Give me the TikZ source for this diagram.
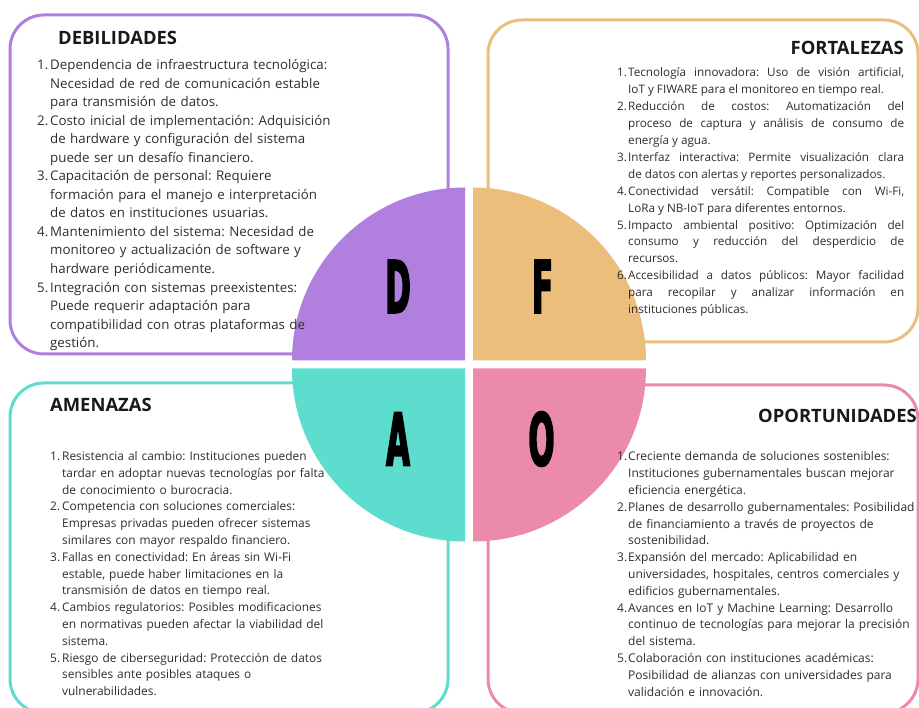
\documentclass[tikz,border=0pt]{standalone}
\usepackage{fontspec}
\setmainfont{Open Sans}
\newfontfamily\bigfont{DejaVu Sans}[FakeStretch=0.42, BoldFeatures={FakeBold=2}]
\usepackage{xcolor}
\definecolor{dpurple}{RGB}{177,128,222}
\definecolor{forange}{RGB}{235,190,124}
\definecolor{ateal}{RGB}{93,221,205}
\definecolor{opink}{RGB}{236,138,169}
\definecolor{txtgray}{RGB}{45,45,45}
\frenchspacing
\newlength\itmind
\newcommand{\itm}[2]{\hangindent=\itmind\hangafter=1\noindent\makebox[\itmind][l]{#1}#2\par}
\tikzset{
  box/.style={rounded corners=34pt, line width=3pt},
  big/.style={font=\bigfont\bfseries\fontsize{73}{73}\selectfont, inner sep=0pt, text=black},
  ttl/.style={font=\bfseries\fontsize{18.4}{22}\selectfont, inner sep=0pt, text=black!90},
  lst/.style={inner sep=0pt, text=txtgray, align=left},
  lstD/.style={lst, text width=340pt,
    font=\fontsize{13.3}{18.55}\selectfont\setlength{\itmind}{13pt}},
  lstF/.style={lst, text width=287pt, align=justify,
    font=\fontsize{11.7}{16.9}\selectfont\setlength{\itmind}{11pt}},
  lstA/.style={lst, text width=300pt,
    font=\fontsize{11.9}{16.8}\selectfont\setlength{\itmind}{12pt}},
  lstO/.style={lstA, font=\fontsize{12}{16.8}\selectfont\setlength{\itmind}{11pt}},
}

\begin{document}
\begin{tikzpicture}[x=1pt, y=1pt]
  \useasboundingbox (0,0) rectangle (919,708);

  % ---- Boxes ----
  \draw[box, draw=dpurple] (10,354) rectangle (448,693);
  \draw[box, draw=forange] (488,366) rectangle (918,688);
  \draw[box, draw=ateal]   (10,-5)  rectangle (448,325);
  \draw[box, draw=opink]   (488,-5) rectangle (918,323);

  % ---- Quadrants ----
  \fill[dpurple] (465,347.5) -- ++(-173,0) arc[start angle=180, end angle=90, radius=173] -- cycle;
  \fill[forange] (473,347.5) -- ++(0,173) arc[start angle=90, end angle=0, radius=173] -- cycle;
  \fill[ateal]   (465,339.5) -- ++(-173,0) arc[start angle=180, end angle=270, radius=173] -- cycle;
  \fill[opink]   (473,339.5) -- ++(173,0) arc[start angle=0, end angle=-90, radius=173] -- cycle;

  % ---- Letters ----
  \node[big] (letD) at (398,421.5) {D};
  \node[big] (letF) at (542.5,421.5) {F};
  \node[big] (letA) at (398,269) {A};
  \node[big] (letO) at (541.5,269) {O};

  % ---- Titles ----
  \node[ttl, anchor=base west] (tD) at (58,663.5) {DEBILIDADES};
  \node[ttl, anchor=base east] (tF) at (904,653) {FORTALEZAS};
  \node[ttl, anchor=base west] (tA) at (50,296.5) {AMENAZAS};
  \node[ttl, anchor=base east] (tO) at (917,285) {OPORTUNIDADES};

  % ---- Lists ----
  \node[lstD, anchor=base west] (lD) at (37,638.5) {%
    \itm{1.}{Dependencia de infraestructura tecnológica:\newline Necesidad de red de comunicación estable\newline para transmisión de datos.}
    \itm{2.}{Costo inicial de implementación: Adquisición\newline de hardware y configuración del sistema\newline puede ser un desafío financiero.}
    \itm{3.}{Capacitación de personal: Requiere\newline formación para el manejo e interpretación\newline de datos en instituciones usuarias.}
    \itm{4.}{Mantenimiento del sistema: Necesidad de\newline monitoreo y actualización de software y\newline hardware periódicamente.}
    \itm{5.}{Integración con sistemas preexistentes:\newline Puede requerir adaptación para\newline compatibilidad con otras plataformas de\newline gestión.}};

  \node[lstF, anchor=base west] (lF) at (617,631) {%
    \itm{1.}{Tecnología innovadora: Uso de visión artificial,\linebreak IoT y FIWARE para el monitoreo en tiempo real.}
    \itm{2.}{Reducción de costos: Automatización del\linebreak proceso de captura y análisis de consumo de\linebreak energía y agua.}
    \itm{3.}{Interfaz interactiva: Permite visualización clara\linebreak de datos con alertas y reportes personalizados.}
    \itm{4.}{Conectividad versátil: Compatible con Wi-Fi,\linebreak LoRa y NB-IoT para diferentes entornos.}
    \itm{5.}{Impacto ambiental positivo: Optimización del\linebreak consumo y reducción del desperdicio de\linebreak recursos.}
    \itm{6.}{Accesibilidad a datos públicos: Mayor facilidad\linebreak para recopilar y analizar información en\linebreak instituciones públicas.}};

  \node[lstA, anchor=base west] (lA) at (50,247.5) {%
    \itm{1.}{Resistencia al cambio: Instituciones pueden\newline tardar en adoptar nuevas tecnologías por falta\newline de conocimiento o burocracia.}
    \itm{2.}{Competencia con soluciones comerciales:\newline Empresas privadas pueden ofrecer sistemas\newline similares con mayor respaldo financiero.}
    \itm{3.}{Fallas en conectividad: En áreas sin Wi-Fi\newline estable, puede haber limitaciones en la\newline transmisión de datos en tiempo real.}
    \itm{4.}{Cambios regulatorios: Posibles modificaciones\newline en normativas pueden afectar la viabilidad del\newline sistema.}
    \itm{5.}{Riesgo de ciberseguridad: Protección de datos\newline sensibles ante posibles ataques o\newline vulnerabilidades.}};

  \node[lstO, anchor=base west] (lO) at (617,247) {%
    \itm{1.}{Creciente demanda de soluciones sostenibles:\newline Instituciones gubernamentales buscan mejorar\newline eficiencia energética.}
    \itm{2.}{Planes de desarrollo gubernamentales: Posibilidad\newline de financiamiento a través de proyectos de\newline sostenibilidad.}
    \itm{3.}{Expansión del mercado: Aplicabilidad en\newline universidades, hospitales, centros comerciales y\newline edificios gubernamentales.}
    \itm{4.}{Avances en IoT y Machine Learning: Desarrollo\newline continuo de tecnologías para mejorar la precisión\newline del sistema.}
    \itm{5.}{Colaboración con instituciones académicas:\newline Posibilidad de alianzas con universidades para\newline validación e innovación.}};
\end{tikzpicture}
\end{document}
